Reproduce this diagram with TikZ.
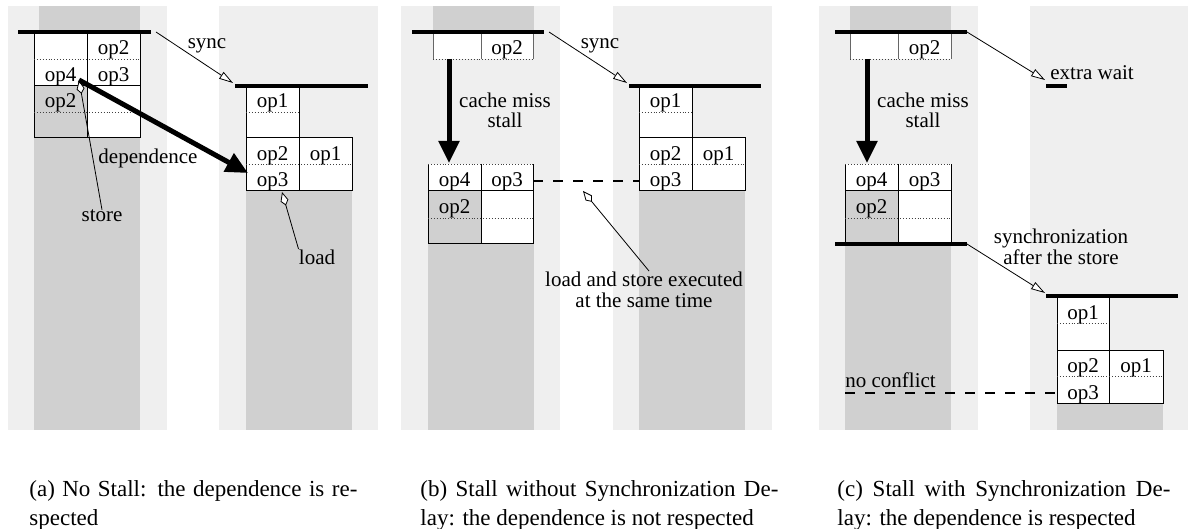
\documentclass[tikz,border=0pt]{standalone}
\usepackage{fontspec}
\setmainfont{Liberation Serif}
\usetikzlibrary{arrows.meta, positioning}
\definecolor{lanegray}{gray}{0.937}
\definecolor{busygray}{gray}{0.816}

\begin{document}
\begin{tikzpicture}[x=0.5pt, y=-0.5pt,
        % Lanes of the two processors
        lane/.style={fill=lanegray},
        busy/.style={fill=busygray},
        % Cell grid
        cellline/.style={line width=0.5pt},
        halfline/.style={line width=0.45pt, densely dotted, draw=black!75},
        syncbar/.style={line width=2pt},
        % Texts
        oplab/.style={font=\fontsize{10.5}{12}\selectfont, inner sep=0pt, anchor=base},
        note/.style={font=\fontsize{10.5}{10.2}\selectfont, inner sep=0pt, align=center},
        caption/.style={font=\fontsize{11.5}{14.5}\selectfont, inner sep=0pt,
                anchor=north west, align=justify},
        % Arrows
        syncarr/.style={-{Triangle[fill=white, length=7pt, width=4pt]}, line width=0.4pt},
        hintarr/.style={-{Kite[fill=white, length=7pt, width=4pt, inset=2.5pt]}, line width=0.4pt},
        heavyarr/.style={-{Triangle[length=11pt, width=10pt]}, line width=2.5pt},
        sametime/.style={dash pattern=on 5pt off 5pt, line width=0.7pt}
    ]
    \useasboundingbox (0,0) rectangle (1188,529);

    % (a) No Stall
    \fill[lane] (8,6) rectangle (167,430);
    \fill[lane] (219,6) rectangle (378,430);
    \fill[busy] (39,6) rectangle (140,32);
    \fill[busy] (34,138) rectangle (140,430);
    \fill[busy] (246,191) rectangle (352,430);

    \fill[white] (34,33) rectangle (140,138);
    \fill[busy] (34,86) rectangle (87,138);
    \draw[cellline] (34,33) rectangle (140,138) (87,33) -- (87,138) (34,86) -- (140,86);
    \draw[halfline] (34,59) -- (140,59) (34,112) -- (140,112);

    \fill[white] (246,86) rectangle (299,138) (246,138) rectangle (352,191);
    \draw[cellline] (246,86) -- (246,191) -- (352,191) -- (352,138) -- (246,138)
        (299,86) -- (299,191);
    \draw[halfline] (246,112) -- (299,112) (246,164) -- (352,164);

    \draw[syncbar] (18,32) -- (151,32);
    \draw[syncbar] (235,86) -- (368,86);

    \node[oplab] (a1op2) at (113.5,55) {op2};
    \node[oplab] (a1op4) at (60.5,82) {op4};
    \node[oplab] (a1op3) at (113.5,82) {op3};
    \node[oplab] (a1op2b) at (60.5,108) {op2};
    \node[oplab] (a2op1) at (272.5,108) {op1};
    \node[oplab] (a2op2) at (272.5,161) {op2};
    \node[oplab] (a2op1b) at (325.5,161) {op1};
    \node[oplab] (a2op3) at (272.5,187) {op3};

    \node[oplab] (async) at (207,49) {sync};
    \node[oplab] (adep) at (148,164) {dependence};
    \node[oplab] (astore) at (102,222) {store};
    \node[oplab] (aload) at (317,264) {load};

    \coordinate (async1) at (156,32);
    \coordinate (async2) at (233,83);
    \coordinate (astoretip) at (79,80);
    \coordinate (adeptip) at (248,173);
    \coordinate (aloadtip) at (282,192);

    \draw[syncarr] (async1) -- (async2);
    \draw[hintarr] (astore.north) -- (astoretip);
    \draw[heavyarr] (astoretip) -- (adeptip);
    \draw[hintarr] (aload.north west) -- (aloadtip);

    % (b) Stall without Synchronization Delay
    \fill[lane] (401,6) rectangle (560,430);
    \fill[lane] (613,6) rectangle (772,430);
    \fill[busy] (433,6) rectangle (534,32);
    \fill[busy] (428,244) rectangle (534,430);
    \fill[busy] (639,191) rectangle (745,430);

    \fill[white] (433,33) rectangle (533,59);
    \draw[cellline, draw=black!60] (433,33) -- (433,59) (481,33) -- (481,59) (533,33) -- (533,59);
    \draw[halfline] (433,59) -- (533,59);

    \fill[white] (428,164) rectangle (533,244);
    \fill[busy] (428,191) rectangle (481,244);
    \draw[cellline] (428,164) -- (428,244) -- (533,244) -- (533,164)
        (481,164) -- (481,244) (428,191) -- (533,191);
    \draw[halfline] (428,164) -- (533,164) (428,218) -- (533,218);

    \fill[white] (639,86) rectangle (692,138) (639,138) rectangle (745,191);
    \draw[cellline] (639,86) -- (639,191) -- (745,191) -- (745,138) -- (639,138)
        (692,86) -- (692,191);
    \draw[halfline] (639,112) -- (692,112) (639,164) -- (745,164);

    \draw[syncbar] (412,32) -- (544,32);
    \draw[syncbar] (629,86) -- (761,86);

    \node[oplab] (b1op2) at (507,55) {op2};
    \node[oplab] (b1op4) at (454.5,187) {op4};
    \node[oplab] (b1op3) at (507,187) {op3};
    \node[oplab] (b1op2b) at (454.5,214) {op2};
    \node[oplab] (b2op1) at (665.5,108) {op1};
    \node[oplab] (b2op2) at (665.5,161) {op2};
    \node[oplab] (b2op1b) at (718.5,161) {op1};
    \node[oplab] (b2op3) at (665.5,187) {op3};

    \node[oplab] (bsync) at (600,49) {sync};
    \node[note] (bmiss) at (505,110.5) {cache miss\\stall};
    \node[note] (bsame) at (644,290) {load and store executed\\at the same time};

    \coordinate (bsync1) at (549,32);
    \coordinate (bsync2) at (627,83);
    \coordinate (bmiss1) at (449,59);
    \coordinate (bmiss2) at (449,163);
    \coordinate (bdash1) at (533,181);
    \coordinate (bdash2) at (639,181);
    \coordinate (bsametip) at (583,191);
    \coordinate (bsamefrom) at (649,271);

    \draw[syncarr] (bsync1) -- (bsync2);
    \draw[heavyarr] (bmiss1) -- (bmiss2);
    \draw[sametime] (bdash1) -- (bdash2);
    \draw[hintarr] (bsamefrom) -- (bsametip);

    % (c) Stall with Synchronization Delay
    \fill[lane] (819,6) rectangle (978,430);
    \fill[lane] (1030,6) rectangle (1188,430);
    \fill[busy] (850,6) rectangle (951,32);
    \fill[busy] (845,244) rectangle (951,430);
    \fill[busy] (1057,403) rectangle (1163,430);

    \fill[white] (850,33) rectangle (951,59);
    \draw[cellline, draw=black!60] (850,33) -- (850,59) (898,33) -- (898,59) (951,33) -- (951,59);
    \draw[halfline] (850,59) -- (951,59);

    \fill[white] (845,164) rectangle (951,244);
    \fill[busy] (845,191) rectangle (898,244);
    \draw[cellline] (845,164) -- (845,244) (951,244) -- (951,164)
        (898,164) -- (898,244) (845,191) -- (951,191);
    \draw[halfline] (845,164) -- (951,164) (845,218) -- (951,218);

    \fill[white] (1057,296) rectangle (1109,350) (1057,350) rectangle (1163,403);
    \draw[cellline] (1057,296) -- (1057,403) -- (1163,403) -- (1163,350) -- (1057,350)
        (1109,296) -- (1109,403);
    \draw[halfline] (1057,323) -- (1109,323) (1057,376) -- (1163,376);

    \draw[syncbar] (835,32) -- (967,32);
    \draw[syncbar] (835,244) -- (967,244);
    \draw[syncbar] (1046,86) -- (1067,86);
    \draw[syncbar] (1046,296) -- (1178,296);

    \node[oplab] (c1op2) at (924.5,55) {op2};
    \node[oplab] (c1op4) at (871.5,187) {op4};
    \node[oplab] (c1op3) at (924.5,187) {op3};
    \node[oplab] (c1op2b) at (871.5,214) {op2};
    \node[oplab] (c2op1) at (1083,319) {op1};
    \node[oplab] (c2op2) at (1083,372) {op2};
    \node[oplab] (c2op1b) at (1136,372) {op1};
    \node[oplab] (c2op3) at (1083,399) {op3};

    \node[oplab, anchor=base west] (cwait) at (1050,80) {extra wait};
    \node[note] (cmiss) at (923,110.5) {cache miss\\stall};
    \node[note] (cafter) at (1061,247) {synchronization\\after the store};
    \node[oplab, anchor=base west] (cfree) at (845,387) {no conflict};

    \coordinate (cwait1) at (967,32);
    \coordinate (cwait2) at (1045,80);
    \coordinate (cmiss1) at (867,59);
    \coordinate (cmiss2) at (867,163);
    \coordinate (cafter1) at (967,244);
    \coordinate (cafter2) at (1045,293);
    \coordinate (cdash1) at (845,393);
    \coordinate (cdash2) at (1057,393);

    \draw[syncarr] (cwait1) -- (cwait2);
    \draw[heavyarr] (cmiss1) -- (cmiss2);
    \draw[syncarr] (cafter1) -- (cafter2);
    \draw[sametime] (cdash1) -- (cdash2);

    % Captions
    \node[caption, text width=164pt] (capa) at (29,480)
        {(a) No Stall: the dependence is re-\linebreak spected};
    \node[caption, text width=179pt] (capb) at (420,480)
        {(b) Stall without Synchronization De-\linebreak lay: the dependence is not respected};
    \node[caption, text width=166.5pt] (capc) at (837,480)
        {(c) Stall with Synchronization De-\linebreak lay: the dependence is respected};

\end{tikzpicture}
\end{document}
